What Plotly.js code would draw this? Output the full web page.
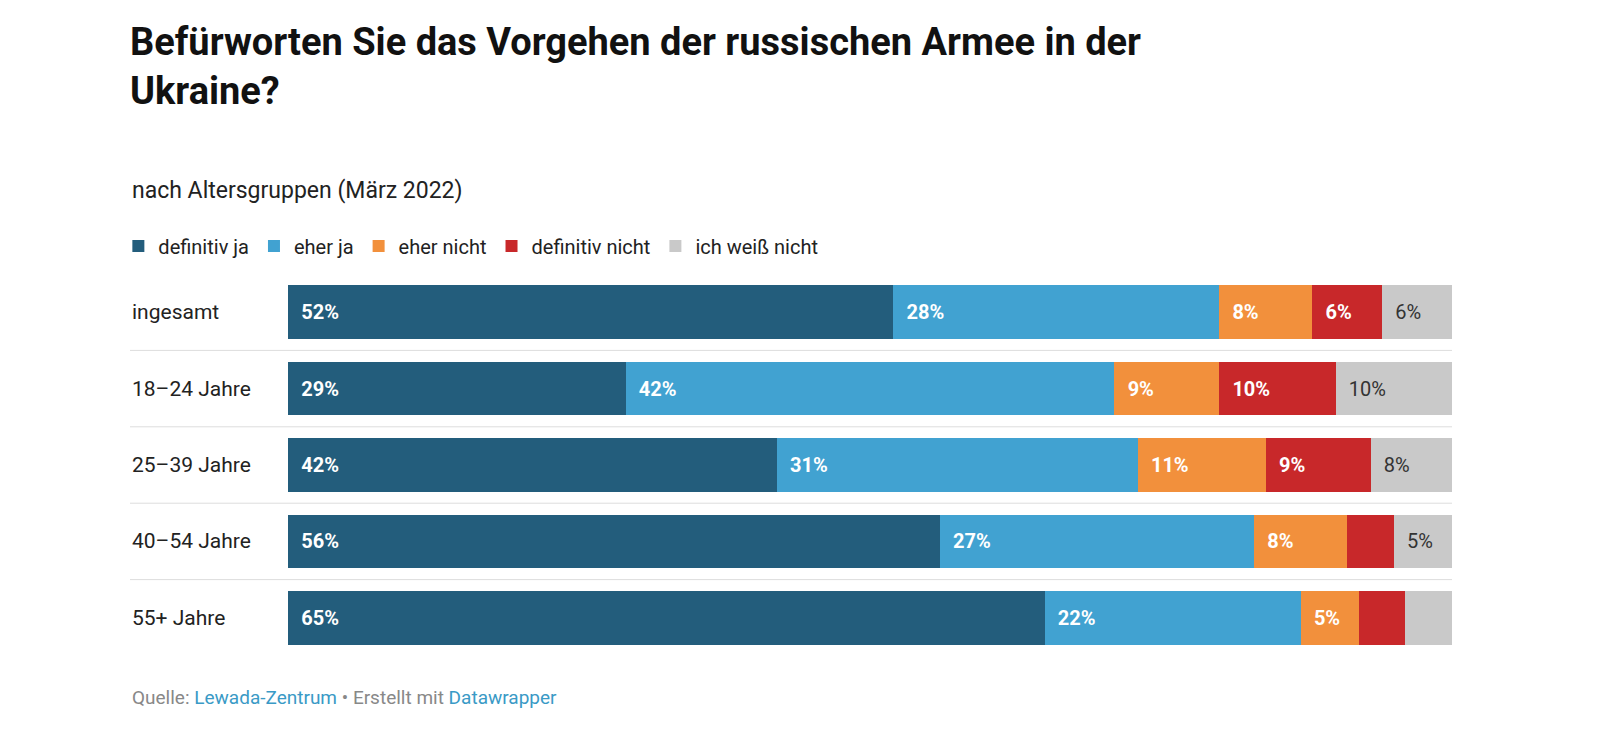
<!DOCTYPE html>
<html>
<head>
<meta charset="utf-8">
<script src="https://cdn.plot.ly/plotly-3.0.1.min.js"></script>
<style>body{margin:0;background:#fff}</style>
</head>
<body>
<div id="chart" style="width:1600px;height:756px"></div>
<script>
const groups = ['ingesamt', '18–24 Jahre', '25–39 Jahre', '40–54 Jahre', '55+ Jahre'];
const seriesNames = ['definitiv ja', 'eher ja', 'eher nicht', 'definitiv nicht', 'ich weiß nicht'];
const defJa = [52, 29, 42, 56, 65];
const eherJa = [28, 42, 31, 27, 22];
const eherNicht = [8, 9, 11, 8, 5];
const defNicht = [6, 10, 9, 4, 4];
const weissNicht = [6, 10, 8, 5, 4];
// segments too small to carry a label in the original
const hideLabel = [[], [], [], [3], [3, 4]];
const colors = ['#235d7c', '#41a2d1', '#f2903c', '#c8282a', '#c9c9c9'];
const textColors = ['#fff', '#fff', '#fff', '#fff', '#333'];

const values = [defJa, eherJa, eherNicht, defNicht, weissNicht];
const rows = groups.map((g, i) => i);

const traces = values.map((vals, s) => ({
  type: 'bar',
  orientation: 'h',
  name: seriesNames[s],
  x: vals,
  y: rows,
  width: 0.7,
  marker: {color: colors[s]},
  text: vals.map((v, i) => hideLabel[i].includes(s) ? '' : '\u2002' + v + '%'),
  textposition: 'inside',
  insidetextanchor: 'start',
  textangle: 0,
  constraintext: 'none',
  textfont: {family: 'Roboto', size: 20, color: textColors[s], weight: s < 4 ? 700 : 400},
  hoverinfo: 'none'
}));

const lx = (130 - 288) / 1164;

const annotations = groups.map((g, i) => ({
  xref: 'paper', yref: 'y', x: lx, y: i, xanchor: 'left', yanchor: 'middle',
  text: g, showarrow: false, font: {family: 'Roboto', size: 21, color: '#222'}
}));
annotations.push({
  xref: 'paper', yref: 'paper', x: lx, y: (656 - 190) / 382, xanchor: 'left', yanchor: 'middle',
  text: 'nach Altersgruppen (März 2022)', showarrow: false,
  font: {family: 'Roboto', size: 23, color: '#222'}
});
annotations.push({
  xref: 'paper', yref: 'paper', x: lx, y: (656 - 697) / 382, xanchor: 'left', yanchor: 'middle',
  text: 'Quelle: <span style="color:#3a9ac6">Lewada-Zentrum</span> • Erstellt mit <span style="color:#3a9ac6">Datawrapper</span>',
  showarrow: false, font: {family: 'Roboto', size: 19, color: '#888'}
});

const shapes = [0.5, 1.5, 2.5, 3.5].map(y => ({
  type: 'line', xref: 'paper', yref: 'y', x0: lx, x1: 1, y0: y, y1: y,
  line: {color: '#dddddd', width: 1}
}));

const layout = {
  width: 1600, height: 756,
  margin: {l: 288, r: 148, t: 274, b: 100},
  barmode: 'stack',
  bargap: 0,
  paper_bgcolor: '#fff', plot_bgcolor: '#fff',
  font: {family: 'Roboto'},
  title: {
    text: '<b>Befürworten Sie das Vorgehen der russischen Armee in der<br>Ukraine?</b>',
    x: 130 / 1600, xanchor: 'left', xref: 'container',
    y: 1 - 55 / 756, yanchor: 'top', yref: 'container',
    font: {family: 'Roboto', size: 38, color: '#111'}
  },
  xaxis: {range: [0, 100], visible: false, fixedrange: true},
  yaxis: {range: [4.5, -0.5], visible: false, fixedrange: true},
  showlegend: true,
  legend: {
    orientation: 'h', x: lx - 0.01, xanchor: 'left', y: (656 - 246) / 382, yanchor: 'middle',
    font: {family: 'Roboto', size: 20, color: '#222'}, traceorder: 'normal',
    itemwidth: 30
  },
  annotations: annotations,
  shapes: shapes
};

Plotly.newPlot('chart', traces, layout, {displayModeBar: false, staticPlot: true});
</script>
</body>
</html>
